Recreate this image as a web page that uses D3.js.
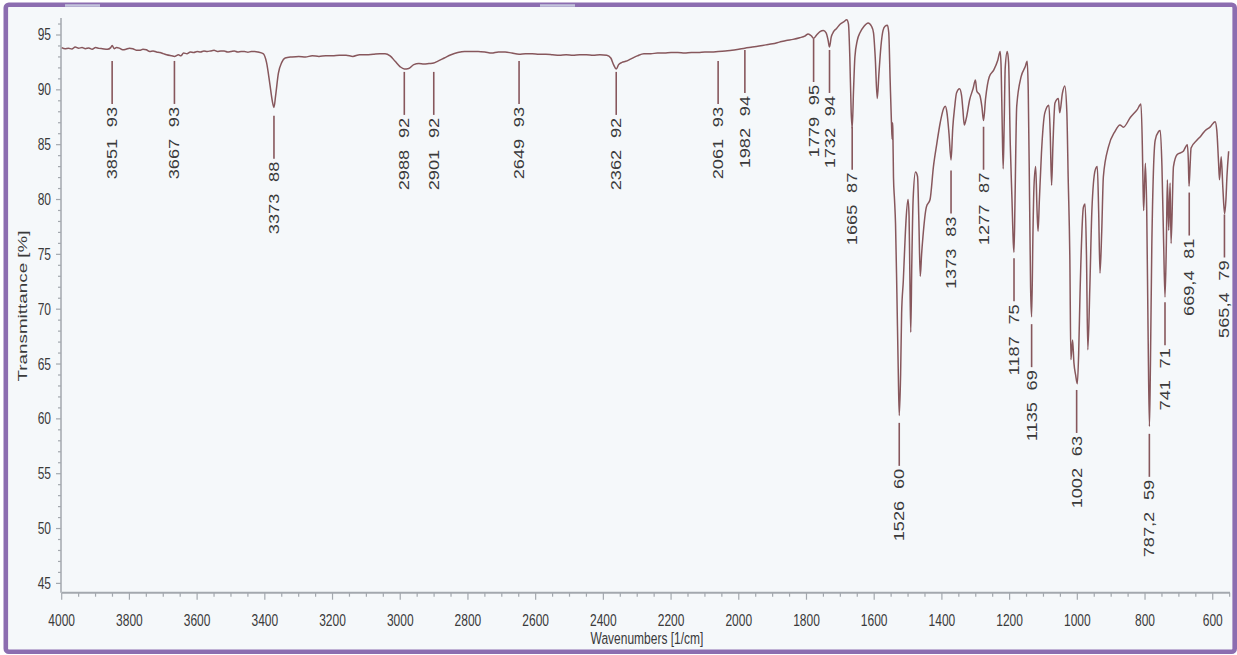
<!DOCTYPE html>
<html>
<head>
<meta charset="utf-8">
<script src="https://cdn.jsdelivr.net/npm/d3@7/dist/d3.min.js"></script>
<style>
  html, body { margin: 0; padding: 0; background: #ffffff; }
  svg { display: block; }
</style>
</head>
<body>
<svg id="chart" width="1237" height="655"></svg>
<script>
// IR spectrum: wavenumber (1/cm) and transmittance (%)
const wavenumbers = [
  4000, 3990, 3980, 3970, 3960, 3950, 3940, 3930, 3920, 3910,
  3900, 3890, 3880, 3865, 3855, 3851, 3845, 3838, 3830, 3820,
  3810, 3800, 3790, 3780, 3770, 3760, 3750, 3740, 3730, 3720,
  3710, 3700, 3690, 3675, 3667, 3655, 3648, 3640, 3630, 3620,
  3610, 3600, 3590, 3580, 3570, 3560, 3550, 3540, 3530, 3520,
  3510, 3500, 3490, 3480, 3470, 3460, 3450, 3440, 3430, 3420,
  3405, 3395, 3385, 3378, 3373, 3368, 3360, 3350, 3340, 3320, 3300, 3280, 3260, 3240,
  3220, 3200, 3180, 3160, 3140, 3120, 3100, 3080, 3060, 3045, 3030, 3015, 3000, 2988, 2975, 2960,
  2945, 2930, 2915, 2901, 2890, 2870, 2850, 2830, 2810, 2790, 2770, 2750, 2730, 2710, 2690, 2670,
  2649, 2630, 2610, 2590, 2570, 2550, 2530, 2510, 2490, 2470, 2450, 2430, 2410, 2390, 2378, 2370,
  2362, 2355, 2345, 2334, 2320, 2300, 2280, 2260, 2240, 2220, 2200, 2180, 2160, 2140, 2120, 2100,
  2080, 2061, 2040, 2020, 2000, 1982, 1960, 1940, 1920, 1900, 1880, 1860, 1840, 1820, 1805, 1795,
  1785, 1779, 1770, 1760, 1750, 1742, 1736, 1732, 1727, 1720, 1711, 1700, 1690, 1681, 1676, 1672,
  1668, 1665, 1661, 1657, 1650, 1642, 1630, 1618, 1608, 1602, 1597, 1591, 1586, 1580, 1574, 1568,
  1561, 1557, 1553, 1549, 1547, 1546, 1545, 1543, 1540, 1537, 1533, 1529, 1526, 1522, 1519, 1514,
  1510, 1506, 1500, 1497, 1495, 1492, 1489, 1485, 1478, 1472, 1468, 1464, 1460, 1456, 1446, 1435,
  1425, 1415, 1405, 1395, 1390, 1385, 1379, 1373, 1368, 1362, 1357, 1348, 1342, 1338, 1334, 1328,
  1318, 1308, 1301, 1297, 1288, 1282, 1277, 1271, 1260, 1247, 1235, 1228, 1225, 1222, 1219, 1216,
  1213, 1207, 1203, 1198, 1193, 1189, 1187, 1184, 1179, 1166, 1154, 1148, 1145, 1141, 1138, 1135,
  1131, 1128, 1123, 1119, 1116, 1112, 1106, 1096, 1084, 1080, 1076, 1072, 1066, 1056, 1052, 1044,
  1037, 1031, 1027, 1022, 1019, 1014, 1010, 1005, 1000, 996, 992, 982, 977, 973, 969, 963,
  957, 947, 941, 937, 933, 928, 923, 908, 889, 874, 864, 843, 823, 812, 808, 806,
  804, 799, 795, 791, 787, 784, 780, 770, 760, 755, 750, 745, 741, 737, 734, 730,
  726, 723, 716, 705, 687, 675, 672, 670, 667, 664, 647, 635, 622, 608, 593, 588,
  583, 580, 575, 570, 565, 561, 558, 553
];
const transmittance = [
  93.85, 93.75, 93.8, 93.72, 93.9, 93.8, 93.85, 93.75, 93.82, 93.7,
  93.85, 93.78, 93.75, 93.7, 93.85, 94.05, 93.75, 93.85, 93.8, 93.65,
  93.7, 93.8, 93.75, 93.62, 93.6, 93.7, 93.65, 93.5, 93.55, 93.45,
  93.4, 93.3, 93.2, 93.1, 93.05, 93.2, 93.1, 93.35, 93.3, 93.45,
  93.4, 93.5, 93.45, 93.55, 93.5, 93.55, 93.6, 93.5, 93.55, 93.55,
  93.45, 93.5, 93.55, 93.45, 93.5, 93.5, 93.42, 93.5, 93.5, 93.45,
  93.3, 92.5, 90.5, 89.0, 88.4, 89.5, 91.5, 92.5, 92.9, 93.0, 93.05, 93.0, 93.1, 93.05,
  93.1, 93.1, 93.15, 93.15, 93.05, 93.2, 93.2, 93.25, 93.3, 93.3, 93.1, 92.6, 92.1, 91.9, 91.95, 92.3,
  92.4, 92.35, 92.4, 92.45, 92.6, 92.9, 93.2, 93.4, 93.5, 93.5, 93.5, 93.45, 93.35, 93.45, 93.45, 93.35,
  93.25, 93.3, 93.3, 93.25, 93.25, 93.2, 93.15, 93.2, 93.15, 93.2, 93.2, 93.15, 93.2, 93.15, 92.9, 92.3,
  91.9, 92.3, 92.5, 92.6, 92.8, 93.1, 93.3, 93.3, 93.35, 93.35, 93.4, 93.4, 93.35, 93.4, 93.4, 93.45,
  93.45, 93.5, 93.55, 93.6, 93.7, 93.8, 93.9, 94.0, 94.1, 94.2, 94.35, 94.5, 94.6, 94.75, 94.9, 95.1,
  94.9, 94.7, 95.0, 95.3, 95.4, 95.2, 94.5, 93.9, 94.8, 95.3, 95.6, 96.0, 96.2, 96.4, 96.0, 93.0,
  88.0, 86.5, 90.0, 93.0, 94.5, 95.2, 95.8, 96.1, 95.8, 95.2, 93.0, 89.2, 91.5, 94.0, 95.4, 95.8,
  95.9, 95.2, 91.0, 87.0, 85.5, 87.0, 86.5, 82.0, 80.0, 77.8, 71.5, 64.5, 60.3, 64.0, 69.6, 72.6,
  75.5, 78.1, 80.0, 78.5, 74.0, 67.9, 74.0, 80.0, 82.5, 82.1, 78.0, 73.0, 75.0, 76.6, 79.3, 80.0,
  83.0, 85.1, 87.0, 88.3, 88.5, 87.9, 86.0, 83.6, 86.5, 88.5, 89.7, 90.1, 89.5, 88.2, 86.8, 87.4,
  89.1, 90.1, 90.9, 89.9, 89.5, 88.5, 87.2, 89.2, 91.2, 91.8, 92.7, 93.5, 92.0, 87.0, 82.8, 87.0,
  92.0, 93.5, 92.5, 85.0, 80.0, 76.0, 75.2, 80.0, 88.5, 91.2, 92.1, 92.6, 90.0, 80.0, 72.0, 69.3,
  77.0, 81.2, 83.0, 79.0, 77.1, 80.0, 84.2, 87.9, 88.6, 86.0, 81.3, 85.0, 88.8, 89.2, 87.9, 89.7,
  90.35, 88.0, 82.0, 74.5, 65.4, 67.2, 65.1, 64.0, 63.2, 66.0, 71.4, 79.3, 79.6, 75.0, 66.3, 72.0,
  79.0, 82.7, 83.0, 79.0, 73.3, 77.0, 82.1, 84.8, 86.2, 86.8, 86.6, 87.5, 88.2, 88.7, 85.0, 81.5,
  79.0, 83.3, 79.0, 68.0, 59.3, 65.0, 75.7, 85.4, 86.2, 86.3, 83.0, 76.0, 71.1, 76.0, 81.8, 77.2,
  81.5, 76.0, 83.0, 84.1, 84.4, 85.0, 83.5, 81.2, 83.0, 84.7, 85.4, 85.8, 86.3, 86.6, 87.1, 86.3,
  83.5, 81.8, 83.9, 81.0, 78.7, 80.0, 82.1, 84.4
];

// Peak picks: position, label text and transmittance shown on the label
const peakWavenumbers = [3851, 3667, 3373, 2988, 2901, 2649, 2362, 2061, 1982, 1779, 1732, 1665,
  1526, 1373, 1277, 1187, 1135, 1002, 787.2, 741, 669.4, 565.4];
const peakNames = ["3851", "3667", "3373", "2988", "2901", "2649", "2362", "2061", "1982", "1779", "1732", "1665",
  "1526", "1373", "1277", "1187", "1135", "1002", "787,2", "741", "669,4", "565,4"];
const peakValues = [93, 93, 88, 92, 92, 93, 92, 93, 94, 95, 94, 87, 60, 83, 87, 75, 69, 63, 59, 71, 81, 79];

const xTicks = [4000, 3800, 3600, 3400, 3200, 3000, 2800, 2600, 2400, 2200, 2000, 1800, 1600, 1400, 1200, 1000, 800, 600];
const yTicks = [45, 50, 55, 60, 65, 70, 75, 80, 85, 90, 95];

const xTitle = "Wavenumbers [1/cm]";
const yTitle = "Transmittance [%]";

const svg = d3.select("#chart");
const lineColor = "#87575c";
const axisColor = "#a3a8ae";
const textColor = "#3a3a3a";

// Frame
svg.append("rect")
  .attr("x", 5.8).attr("y", 4.7).attr("width", 1228.9).attr("height", 647)
  .attr("rx", 3).attr("fill", "#f5f8fa")
  .attr("stroke", "#8c6db0").attr("stroke-width", 4.6);
svg.append("g").selectAll("line").data([[65, 100], [540, 575]]).join("line")
  .attr("x1", d => d[0]).attr("x2", d => d[1]).attr("y1", 5.5).attr("y2", 5.5)
  .attr("stroke", "#c3c4dc").attr("stroke-width", 2.5);

const x = d3.scaleLinear().domain([4000, 549]).range([61.7, 1230]);
const y = d3.scaleLinear().domain([44.15, 96.55]).range([592.7, 18]);

// Axes
const gx = svg.append("g").attr("transform", "translate(0,592.7)");
gx.append("line").attr("x1", x.range()[0]).attr("x2", x.range()[1])
  .attr("stroke", axisColor).attr("stroke-width", 2);
gx.selectAll("line.minor").data(d3.range(4000, 549, -50)).join("line").attr("class", "minor")
  .attr("x1", d => x(d)).attr("x2", d => x(d)).attr("y1", 0)
  .attr("y2", d => xTicks.includes(d) ? 7 : 4)
  .attr("stroke", axisColor).attr("stroke-width", 1.2);
gx.selectAll("text").data(xTicks).join("text")
  .attr("transform", d => `translate(${x(d)},33) scale(1,1.45)`)
  .attr("text-anchor", "middle")
  .attr("font-family", "Liberation Sans, Arial, sans-serif").attr("font-size", 12)
  .attr("fill", textColor).text(d => d);

const gy = svg.append("g").attr("transform", "translate(61,0)");
gy.append("line").attr("y1", y.range()[0]).attr("y2", y.range()[1])
  .attr("stroke", axisColor).attr("stroke-width", 1.5);
gy.selectAll("line.minor").data(d3.range(45, 97, 1)).join("line").attr("class", "minor")
  .attr("y1", d => y(d)).attr("y2", d => y(d)).attr("x1", 0)
  .attr("x2", d => yTicks.includes(d) ? -5 : -3)
  .attr("stroke", axisColor).attr("stroke-width", 1.2);
gy.selectAll("text").data(yTicks).join("text")
  .attr("transform", d => `translate(-10,${y(d) + 5.5}) scale(1,1.4)`)
  .attr("text-anchor", "end")
  .attr("font-family", "Liberation Sans, Arial, sans-serif").attr("font-size", 12)
  .attr("fill", textColor).text(d => d);

// Axis titles
svg.append("text")
  .attr("transform", "translate(647,644) scale(1,1.45)")
  .attr("text-anchor", "middle")
  .attr("font-family", "Liberation Sans, Arial, sans-serif").attr("font-size", 12)
  .attr("fill", textColor).text(xTitle);
svg.append("text")
  .attr("transform", "translate(27,306) scale(1,1.45) rotate(-90)")
  .attr("text-anchor", "middle")
  .attr("font-family", "Liberation Sans, Arial, sans-serif").attr("font-size", 13)
  .attr("fill", textColor).text(yTitle);

// Spectrum trace
const spectrum = wavenumbers.map((w, i) => [w, transmittance[i]]);
svg.append("path")
  .datum(spectrum)
  .attr("fill", "none").attr("stroke", lineColor).attr("stroke-width", 1.5)
  .attr("stroke-linejoin", "round")
  .attr("d", d3.line().x(d => x(d[0])).y(d => y(d[1])).curve(d3.curveMonotoneX));

// Peak labels: a short drop line followed by the rotated label
const peaks = peakWavenumbers.map((w, i) => ({ w, name: peakNames[i], v: peakValues[i] }));
const gp = svg.append("g");
const lineLen = 43;
gp.selectAll("line").data(peaks).join("line")
  .attr("x1", d => x(d.w)).attr("x2", d => x(d.w))
  .attr("y1", d => y(d.v) + 4).attr("y2", d => y(d.v) + 4 + lineLen)
  .attr("stroke", lineColor).attr("stroke-width", 1.6);
const labels = gp.selectAll("text").data(peaks).join("text")
  .attr("transform", d => `translate(${x(d.w) + 5},${y(d.v) + 4 + lineLen + 3}) scale(1,1.3) rotate(-90)`)
  .attr("text-anchor", "end")
  .attr("font-family", "Liberation Sans, Arial, sans-serif").attr("font-size", 14)
  .attr("fill", textColor);
labels.append("tspan").text(d => d.name);
labels.append("tspan").attr("dx", 9).text(d => d.v);
</script>
</body>
</html>
